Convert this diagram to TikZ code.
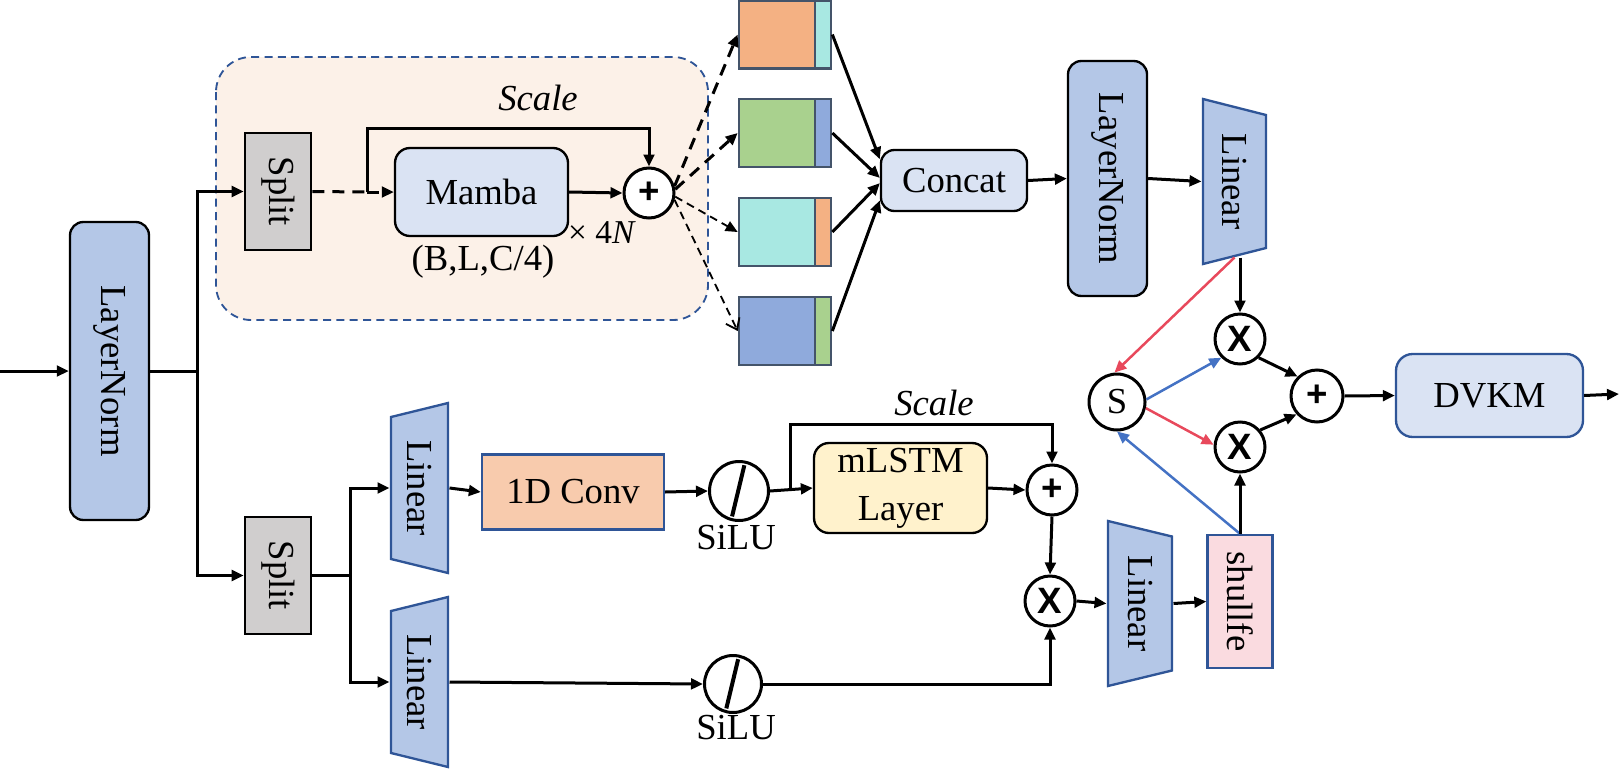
\documentclass[tikz,border=0pt]{standalone}
\usepackage{fontspec}
\setmainfont{Liberation Serif}
\newfontfamily\opfont{Liberation Sans}
\usetikzlibrary{arrows.meta}

\definecolor{lnblue}{HTML}{B4C7E7}
\definecolor{softblue}{HTML}{DAE3F3}
\definecolor{edgeblue}{HTML}{2F5597}
\definecolor{splitgray}{HTML}{D0CECE}
\definecolor{zonepeach}{HTML}{FCF1E8}
\definecolor{convpeach}{HTML}{F8CBAD}
\definecolor{lstmyellow}{HTML}{FFF2CC}
\definecolor{shulpink}{HTML}{FADBE0}
\definecolor{blkorange}{HTML}{F4B183}
\definecolor{blkcyan}{HTML}{A8E8E2}
\definecolor{blkgreen}{HTML}{A9D18E}
\definecolor{blkblue}{HTML}{8FAADC}
\definecolor{blkedge}{HTML}{44546A}
\definecolor{gatered}{HTML}{E8495C}
\definecolor{gateblue}{HTML}{4472C4}

\tikzset{
  txt/.style={font=\fontsize{11}{13}\selectfont, inner sep=0pt},
  normbox/.style={txt, draw=black, fill=lnblue, rounded corners=4pt, line width=0.7pt},
  splitbox/.style={txt, draw=black, fill=splitgray, line width=0.8pt, minimum width=19.8pt, minimum height=35.1pt},
  softbox/.style={txt, draw=black, fill=softblue, rounded corners=4.5pt, line width=0.7pt},
  edgebox/.style={txt, draw=edgeblue, line width=0.7pt},
  linshape/.style={draw=edgeblue, fill=lnblue, line width=0.7pt},
  lintext/.style={txt},
  opnode/.style={circle, draw=black, fill=white, line width=0.9pt, minimum size=15pt, inner sep=0pt, font=\opfont\bfseries\fontsize{11}{13}\selectfont},
  actnode/.style={circle, draw=black, fill=white, line width=0.9pt, minimum size=17.7pt, inner sep=0pt},
  slash/.style={line width=1.2pt, shorten >=1.4pt, shorten <=1.4pt},
  blk/.style={draw=blkedge, line width=0.8pt, minimum height=20.4pt, inner sep=0pt},
  dashthick/.style={line width=0.9pt, dash pattern=on 3.6pt off 2.4pt},
  dashthin/.style={line width=0.55pt, dash pattern=on 2.4pt off 1.6pt},
  redarr/.style={->, draw=gatered, line width=0.75pt},
  bluearr/.style={->, draw=gateblue, line width=0.75pt},
}

% trapezoid Linear block: name, x, y, left half height, right half height, half width
\newcommand{\linblock}[6]{%
  \draw[linshape] (#2-#6,#3-#4) -- (#2+#6,#3-#5) -- (#2+#6,#3+#5) -- (#2-#6,#3+#4) -- cycle;
  \node[lintext, minimum width={2*#6*0.3pt}, minimum height={(#4+#5)*0.3pt}] (#1) at (#2,#3) {\rotatebox{-90}{Linear}};
}

\begin{document}
\begin{tikzpicture}[x=0.3pt, y=-0.3pt, line width=0.9pt, >={Triangle[length=3.6pt,width=3.2pt]}]
  \useasboundingbox (0,0) rectangle (1619,769);

  % Mamba branch
  \draw[draw=edgeblue, fill=zonepeach, line width=0.55pt, dash pattern=on 2.4pt off 1.6pt, rounded corners=10.5pt] (216,57) rectangle (708,320);

  \node[normbox, minimum width=23.7pt, minimum height=89.4pt] (ln1) at (109.5,371) {\rotatebox{-90}{LayerNorm}};
  \node[splitbox] (split1) at (278,191.5) {\rotatebox{-90}{Split}};
  \node[splitbox] (split2) at (278,575.5) {\rotatebox{-90}{Split}};
  \node[softbox, minimum width=51.9pt, minimum height=26.4pt] (mamba) at (481.5,192) {Mamba};
  \node[opnode] (plus1) at (649,193) {+};
  \node[txt] (scale1) at (538,98) {\textit{Scale}};
  \node[txt] (rep) at (602,233) {\fontsize{10}{12}\selectfont × 4\textit{N}};
  \node[txt] (shape) at (483,262) {(B,L,C/4)};

  \foreach \i/\ya/\ca/\cb in {1/34.5/blkorange/blkcyan, 2/133/blkgreen/blkblue, 3/232/blkcyan/blkorange, 4/331/blkblue/blkgreen} {
    \node[blk, fill=\ca, minimum width=22.8pt] (b\i) at (777,\ya) {};
    \node[blk, fill=\cb, minimum width=4.8pt] (t\i) at (823,\ya) {};
  }

  \node[softbox, minimum width=43.8pt, minimum height=18.3pt, rounded corners=4pt] (concat) at (954,180.5) {Concat};
  \node[normbox, minimum width=23.7pt, minimum height=70.5pt] (ln2) at (1107.5,178.5) {\rotatebox{-90}{LayerNorm}};
  \linblock{lin3}{1234.5}{181.5}{82.5}{66.5}{31.5}
  \node[opnode] (xt) at (1240,339) {X};
  \node[opnode] (xb) at (1240,447) {X};
  \node[actnode, minimum size=16.8pt, font=\fontsize{11}{13}\selectfont] (gate) at (1117,402) {S};
  \node[opnode, minimum size=15.6pt] (pr) at (1317,396) {+};
  \node[edgebox, fill=softblue, rounded corners=5pt, minimum width=56.1pt, minimum height=24.9pt] (dvkm) at (1489.5,395.5) {DVKM};

  % xLSTM branch
  \linblock{lin1}{419.5}{488}{71}{85}{28.5}
  \linblock{lin2}{419.5}{682}{71}{85}{28.5}
  \node[edgebox, fill=convpeach, minimum width=54.6pt, minimum height=22.5pt] (conv) at (573,492) {1D Conv};
  \node[actnode] (silu1) at (739,491) {};
  \node[txt] (silu1lbl) at (736,538) {SiLU};
  \node[actnode, minimum size=17.1pt] (silu2) at (733,684) {};
  \node[txt] (silu2lbl) at (736,728) {SiLU};
  \node[softbox, fill=lstmyellow, align=center, minimum width=51.9pt, minimum height=27pt, font=\fontsize{11}{14.4}\selectfont] (mlstm) at (900.5,488) {mLSTM\\Layer};
  \node[txt] (scale2) at (934,403) {\textit{Scale}};
  \node[opnode] (pl) at (1052,490) {+};
  \node[opnode] (xl) at (1050,601) {X};
  \linblock{lin4}{1140}{603.5}{82.5}{67}{32}
  \node[edgebox, fill=shulpink, minimum width=19.5pt, minimum height=39.9pt] (shul) at (1240,601.5) {\rotatebox{-90}{shullfe}};

  \coordinate (in) at (0,371);
  \coordinate (j1) at (197,371);
  \coordinate (s1) at (367,192);
  \coordinate (j2) at (350,575.5);
  \coordinate (s2) at (790,490);
  \coordinate (out) at (1619,394);

  \draw[->] (in) -- (ln1.west);
  \draw (ln1.east) -- (j1);
  \draw[->] (j1) |- (split1.west);
  \draw[->] (j1) |- (split2.west);
  \draw[dashthick] (split1.east) -- (s1);
  \draw[dashthick, ->] (s1) -- (mamba.west);
  \draw[->] (s1) -- ++(0,-64) -| (plus1.north);
  \draw[->] (mamba.east) -- (plus1.west);
  \draw[dashthick, ->] (plus1.15) -- (b1.west);
  \draw[dashthick, ->] (plus1.8) -- (b2.west);
  \draw[dashthin, ->] (plus1.-8) -- (b3.west);
  \draw[dashthin, -{Straight Barb[length=3pt,width=4.5pt]}] (plus1.-15) -- (b4.west);
  \foreach \i/\a in {1/164,2/178,3/182,4/195}
    \draw[->] (t\i.east) -- (concat.\a);
  \draw[->] (concat.east) -- (ln2.west);
  \draw[->] (ln2.east) -- (lin3.west);
  \draw[->] (lin3.south -| xt.north) -- (xt.north);
  \draw[redarr] (lin3.south) -- (gate.95);
  \draw[bluearr] (gate.5) -- (xt.225);
  \draw[redarr] (gate.-12) -- (xb.175);
  \draw[bluearr] (shul.north) -- (gate.south);
  \draw[->] (shul.north) -- (xb.south);
  \draw[->] (xt.-45) -- (pr.135);
  \draw[->] (xb.40) -- (pr.222);
  \draw[->] (pr.east) -- (dvkm.west);
  \draw[->] (dvkm.east) -- (out);

  \draw (split2.east) -- (j2);
  \draw[->] (j2) |- (lin1.west);
  \draw[->] (j2) |- (lin2.west);
  \draw[->] (lin1.east) -- (conv.west);
  \draw[->] (conv.east) -- (silu1.west);
  \draw[slash] (silu1.78) -- (silu1.255);
  \draw[->] (silu1.east) -- (mlstm.west);
  \draw[->] (s2) -- ++(0,-66) -| (pl.north);
  \draw[->] (mlstm.east) -- (pl.west);
  \draw[->] (pl.south) -- (xl.north);
  \draw[->] (lin2.east) -- (silu2.west);
  \draw[slash] (silu2.78) -- (silu2.255);
  \draw[->] (silu2.east) -| (xl.south);
  \draw[->] (xl.east) -- (lin4.west);
  \draw[->] (lin4.east) -- (shul.west);
\end{tikzpicture}
\end{document}
